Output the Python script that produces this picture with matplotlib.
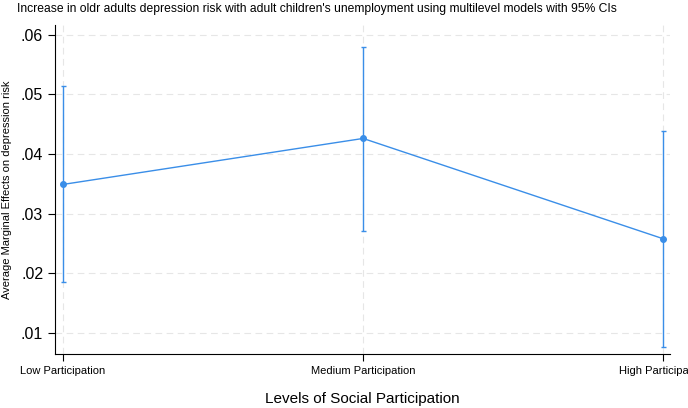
import numpy as np
import matplotlib
matplotlib.use("Agg")
import matplotlib.pyplot as plt
from matplotlib.ticker import FuncFormatter

plt.rcParams['font.family'] = ['Liberation Sans', 'DejaVu Sans']

levels = ["Low Participation", "Medium Participation", "High Participation"]
margins = [0.0349, 0.0426, 0.0258]
ci_low = [0.0185, 0.0271, 0.0076]
ci_high = [0.0514, 0.0580, 0.0439]
yticks = [0.01, 0.02, 0.03, 0.04, 0.05, 0.06]

blue = "#3a8ee8"
x = np.arange(len(levels))
m = np.array(margins)
err = np.array([m - np.array(ci_low), np.array(ci_high) - m])

fig = plt.figure(figsize=(6.88, 4.08), dpi=100)
ax = fig.add_axes([0.0799, 0.1324, 0.894, 0.8063])

ax.errorbar(x, m, yerr=err, color=blue, lw=1.0, elinewidth=1.0,
            capsize=1.8, capthick=1.0, marker="o", markersize=4)

ax.set_xlim(-0.027, 2.023)
ax.set_ylim(0.0065, 0.0616)
ax.set_xticks(x)
ax.set_xticklabels(levels, fontsize=8)
ax.set_yticks(yticks)
ax.yaxis.set_major_formatter(FuncFormatter(lambda v, p: ("%.2f" % v).lstrip("0")))
ax.tick_params(axis="y", labelsize=11.5, length=5, width=0.8)
ax.tick_params(axis="x", length=5, width=0.8)
ax.grid(True, color="#e6e6e6", linestyle=(0, (6, 4)), lw=0.8)
ax.set_axisbelow(True)
for s in ["top", "right"]:
    ax.spines[s].set_visible(False)

ax.set_xlabel("Levels of Social Participation", fontsize=11, labelpad=12)
ax.set_ylabel("Average Marginal Effects on depression risk", fontsize=8, labelpad=6)
fig.text(317 / 688, 1 - 9 / 408, "Increase in oldr adults depression risk with adult children's unemployment using multilevel models with 95% CIs",
         ha="center", va="center", fontsize=8.7)

fig.savefig("out.png", dpi=100)
